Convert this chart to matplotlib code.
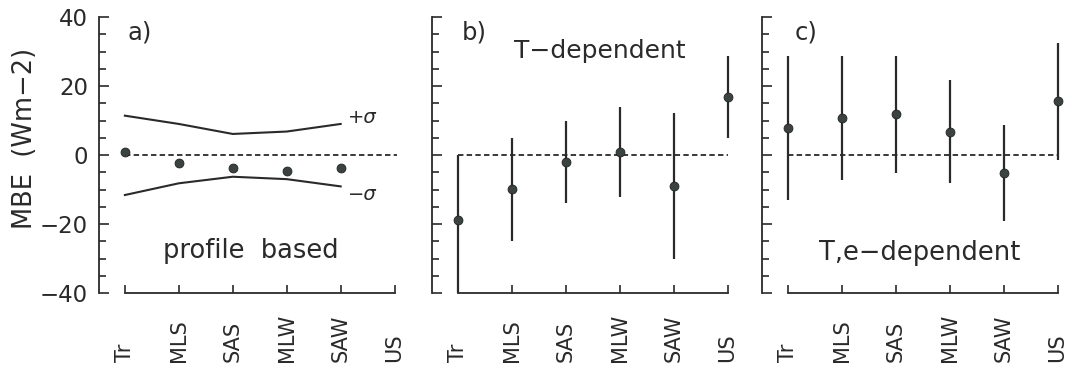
import numpy as np
import matplotlib
matplotlib.use("Agg")
import matplotlib.pyplot as plt
from matplotlib.ticker import MultipleLocator
from matplotlib.transforms import blended_transform_factory

categories = ['Tr', 'MLS', 'SAS', 'MLW', 'SAW', 'US']

# panel a: profile based
mbe_a = [1.0, -2.4, -3.8, -4.7, -3.8]
sigma_up_a = [11.4, 9.0, 6.1, 6.8, 9.0]
sigma_lo_a = [-11.6, -8.2, -6.3, -7.0, -9.1]

# panel b: T-dependent
mbe_b = [-18.9, -9.9, -2.1, 1.0, -9.0, 16.7]
hi_b = [0.0, 5.0, 10.0, 13.8, 12.1, 28.8]
lo_b = [-40.0, -24.9, -13.8, -12.1, -30.0, 4.8]

# panel c: T,e-dependent
mbe_c = [7.7, 10.6, 11.8, 6.7, -5.3, 15.7]
hi_c = [28.7, 28.7, 28.7, 21.8, 8.7, 32.6]
lo_c = [-13.1, -7.3, -5.3, -8.2, -19.1, -1.5]

INK = '#2a2a2a'
DOT = '#3a4242'
plt.rcParams['font.family'] = ['DejaVu Sans']
plt.rcParams['text.color'] = INK

W, H = 1072, 368
fig = plt.figure(figsize=(W / 100, H / 100), dpi=100)
fig.patch.set_facecolor('white')

x = np.arange(len(categories))
xlim = (-0.48, 5.1)
lefts_px = [99, 432, 762]
width = 301 / W
bottom = (H - 293) / H
height = (293 - 17) / H

axes = []
for i, lp in enumerate(lefts_px):
    ax = fig.add_axes([lp / W, bottom, width, height])
    ax.set_xlim(*xlim)
    ax.set_ylim(-40, 40)
    for s in ['top', 'right']:
        ax.spines[s].set_visible(False)
    for s in ['left', 'bottom']:
        ax.spines[s].set_linewidth(1.3)
        ax.spines[s].set_color(INK)
    ax.spines['bottom'].set_bounds(x[0], x[-1])
    ax.yaxis.set_major_locator(MultipleLocator(20))
    ax.yaxis.set_minor_locator(MultipleLocator(5))
    ax.tick_params(axis='y', which='major', direction='in', length=7, width=1.2,
                   color=INK, labelsize=16.5, pad=8, labelcolor=INK)
    ax.tick_params(axis='y', which='minor', direction='in', length=5, width=1.2, color=INK)
    ax.set_xticks(x)
    ax.set_xticklabels([])
    ax.tick_params(axis='x', direction='in', length=6, width=1.2, color=INK)
    if i > 0:
        ax.set_yticklabels([])
    trans = blended_transform_factory(ax.transData, fig.transFigure)
    for xi, lab in zip(x, categories):
        ax.text(xi, (H - 362) / H, lab, rotation=90, ha='center', va='bottom',
                fontsize=15, transform=trans, color=INK)
    axes.append(ax)

# panel a
ax = axes[0]
xa = x[:len(mbe_a)]
ax.hlines(0, x[0], 5.05, colors=INK, linestyles=(0, (3, 1.8)), linewidth=1.3)
ax.plot(xa, sigma_up_a, color=INK, lw=1.5)
ax.plot(xa, sigma_lo_a, color=INK, lw=1.5)
ax.plot(xa, mbe_a, 'o', ms=6.4, color=DOT, mec='#222222', mew=0.6, clip_on=False, zorder=3)
ax.text(4.13, 10.8, '+σ', fontsize=14, va='center', ha='left', style='italic')
ax.text(4.13, -11.4, '−σ', fontsize=14, va='center', ha='left', style='italic')
ax.text(0.28, 33.6, 'a)', fontsize=17.5, va='baseline', ha='center')
ax.text(2.33, -30.0, 'profile  based', fontsize=18.5, va='baseline', ha='center')

# panel b
ax = axes[1]
ax.hlines(0, x[0], x[-1], colors=INK, linestyles=(0, (3, 1.8)), linewidth=1.3)
ax.vlines(x, lo_b, hi_b, colors=INK, lw=1.6, clip_on=False)
ax.plot(x, mbe_b, 'o', ms=6.4, color=DOT, mec='#222222', mew=0.6, clip_on=False, zorder=3)
ax.text(0.30, 33.6, 'b)', fontsize=17.5, va='baseline', ha='center')
ax.text(2.64, 28.2, 'T−dependent', fontsize=18, va='baseline', ha='center')

# panel c
ax = axes[2]
ax.hlines(0, x[0], x[-1], colors=INK, linestyles=(0, (3, 1.8)), linewidth=1.3)
ax.vlines(x, lo_c, hi_c, colors=INK, lw=1.6, clip_on=False)
ax.plot(x, mbe_c, 'o', ms=6.4, color=DOT, mec='#222222', mew=0.6, clip_on=False, zorder=3)
ax.text(0.33, 33.6, 'c)', fontsize=17.5, va='baseline', ha='center')
ax.text(2.44, -30.3, 'T,e−dependent', fontsize=18.5, va='baseline', ha='center')

fig.text(25 / W, (H - 138) / H, 'MBE  (Wm−2)', rotation=90, ha='center', va='center',
         fontsize=18.5, color=INK)

fig.savefig('out.png', dpi=100, facecolor='white')
